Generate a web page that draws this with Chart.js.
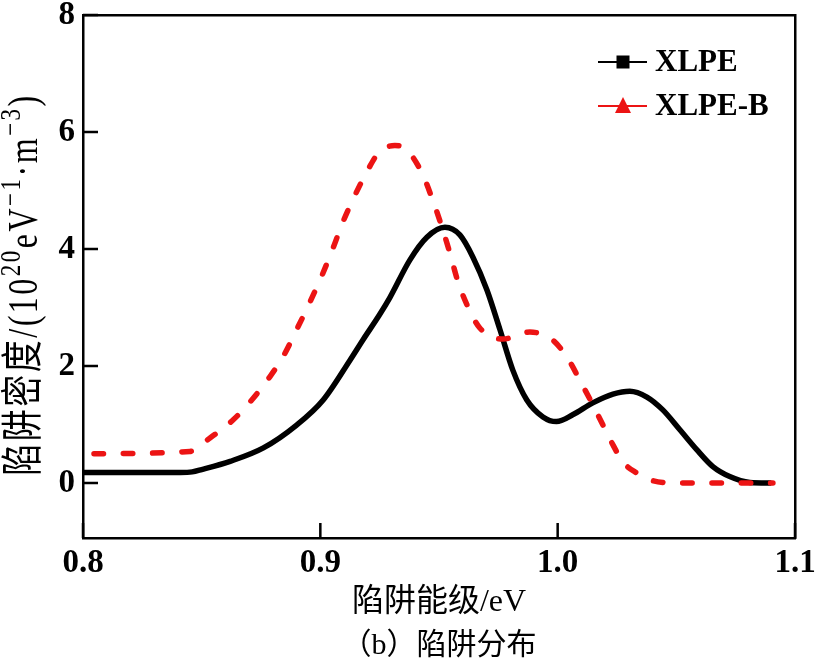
<!DOCTYPE html>
<html>
<head>
<meta charset="utf-8">
<script src="https://cdn.jsdelivr.net/npm/chart.js"></script>
<style>
  html, body { margin: 0; padding: 0; background: #fff; }
  #wrap { width: 815px; height: 664px; }
</style>
</head>
<body>
<div id="wrap"><canvas id="trapChart"></canvas></div>
<script>
// tick values
const xTicks = [0.8, 0.9, 1.0, 1.1];
const yTicks = [0, 2, 4, 6, 8];

// XLPE (black, solid)
const xlpeX = [0.800, 0.841, 0.846, 0.850, 0.862, 0.876, 0.890, 0.9012, 0.9125, 0.918, 0.925, 0.9293, 0.9377, 0.9449, 0.9525, 0.9588, 0.9643, 0.9702, 0.9757, 0.9811, 0.987, 0.9938, 0.9995, 1.0065, 1.0148, 1.0233, 1.0304, 1.0376, 1.0443, 1.0515, 1.0586, 1.0654, 1.0725, 1.081, 1.090];
const xlpeY = [0.18, 0.18, 0.19, 0.23, 0.37, 0.60, 0.99, 1.42, 2.10, 2.45, 2.88, 3.17, 3.81, 4.20, 4.37, 4.24, 3.86, 3.30, 2.62, 1.93, 1.42, 1.13, 1.05, 1.17, 1.37, 1.52, 1.57, 1.47, 1.25, 0.91, 0.57, 0.28, 0.11, 0.01, 0.00];

// XLPE-B (red, dashed)
const xlpeBX = [0.800, 0.845, 0.8535, 0.8633, 0.8711, 0.8788, 0.8843, 0.8906, 0.8956, 0.9007, 0.9053, 0.9095, 0.9146, 0.920, 0.9243, 0.9314, 0.9365, 0.9428, 0.9474, 0.9512, 0.9546, 0.958, 0.9622, 0.9672, 0.9769, 0.9883, 0.998, 1.0047, 1.0098, 1.0144, 1.0186, 1.0228, 1.0275, 1.0334, 1.0401, 1.050, 1.0907];
const xlpeBY = [0.50, 0.54, 0.77, 1.08, 1.42, 1.82, 2.16, 2.67, 3.09, 3.55, 4.01, 4.46, 4.92, 5.35, 5.63, 5.77, 5.69, 5.30, 4.83, 4.38, 3.93, 3.44, 3.01, 2.65, 2.46, 2.58, 2.44, 2.10, 1.72, 1.37, 1.03, 0.69, 0.36, 0.17, 0.04, 0.00, 0.00];

const seriesNames = ['XLPE', 'XLPE-B'];
const xTitle = '陷阱能级/eV';
const caption = '（b）陷阱分布';
// y title pieces: [text, superscript?]
const yTitleParts = [['陷阱密度/(10', false], ['20', true], ['eV', false], ['−1', true], ['·m', false], ['−3', true], [')', false]];

const FONT = "'Liberation Serif', 'Noto Sans CJK SC', serif";

function toPoints(xs, ys) {
    return xs.map((x, i) => ({ x: x, y: ys[i] }));
}

// inward tick marks on the left and bottom axes
function drawInnerTicks(chart) {
    const ctx = chart.ctx;
    const a = chart.chartArea;
    const sx = chart.scales.x, sy = chart.scales.y;
    ctx.save();
    ctx.strokeStyle = '#000000';
    ctx.lineWidth = 2.5;
    ctx.beginPath();
    for (const v of xTicks) {
        const px = sx.getPixelForValue(v);
        ctx.moveTo(px, a.bottom);
        ctx.lineTo(px, a.bottom - 15);
    }
    for (const v of yTicks) {
        const py = sy.getPixelForValue(v);
        ctx.moveTo(a.left, py);
        ctx.lineTo(a.left + 15, py);
    }
    ctx.stroke();
    ctx.restore();
}

// rotated y title with superscripts
function drawYTitle(chart) {
    const ctx = chart.ctx;
    const area = chart.chartArea;
    const mainSize = 32, supSize = 23;
    ctx.save();
    ctx.letterSpacing = '2.5px';
    let total = 0;
    yTitleParts.forEach(p => {
        ctx.font = (p[1] ? supSize : mainSize) + 'px ' + FONT;
        total += ctx.measureText(p[0]).width;
    });
    const cy = (area.top + area.bottom) / 2 + 8;
    ctx.translate(37, cy);
    ctx.rotate(-Math.PI / 2);
    ctx.scale(1, 1.3);
    ctx.fillStyle = '#000';
    ctx.textBaseline = 'alphabetic';
    let x = -total / 2;
    yTitleParts.forEach(p => {
        ctx.font = (p[1] ? supSize : mainSize) + 'px ' + FONT;
        ctx.fillText(p[0], x, p[1] ? -13 : 0);
        x += ctx.measureText(p[0]).width;
    });
    ctx.restore();
}

// legend drawn inside the plot, line + marker like the original
function drawLegend(chart) {
    const ctx = chart.ctx;
    const area = chart.chartArea;
    chart.data.datasets.forEach((ds, i) => {
        const y = area.top + 47 + i * 44;
        const x0 = area.right - 197;
        const cx = x0 + 25;
        ctx.save();
        ctx.strokeStyle = ds.borderColor;
        ctx.lineWidth = 2;
        ctx.beginPath();
        ctx.moveTo(x0, y);
        ctx.lineTo(x0 + 49, y);
        ctx.stroke();
        ctx.fillStyle = ds.borderColor;
        if (ds.pointStyle === 'rect') {
            ctx.fillRect(cx - 6.5, y - 6.5, 13, 13);
        } else {
            ctx.beginPath();
            ctx.moveTo(cx, y - 9);
            ctx.lineTo(cx + 8, y + 7);
            ctx.lineTo(cx - 8, y + 7);
            ctx.closePath();
            ctx.fill();
        }
        ctx.fillStyle = '#000';
        ctx.font = 'bold 31px ' + FONT;
        ctx.textBaseline = 'middle';
        ctx.fillText(ds.label, x0 + 57, y + 1);
        ctx.restore();
    });
}

const decor = {
    id: 'decor',
    afterDraw(chart) {
        drawLegend(chart);
        drawInnerTicks(chart);
        drawYTitle(chart);
    }
};

document.addEventListener('DOMContentLoaded', function() {
    const ctx = document.getElementById('trapChart');

    // top and right axes only close the frame
    const boxAxis = (pos) => ({
        type: 'linear',
        position: pos,
        display: true,
        ticks: { display: false },
        grid: { display: true, drawOnChartArea: false, drawTicks: false, color: 'rgba(0,0,0,0)' },
        border: { display: true, color: '#000', width: 2.5 },
        afterFit: function(s) {
            if (pos === 'top') s.height = 0; else s.width = 0;
            s.paddingLeft = 0; s.paddingRight = 0; s.paddingTop = 0; s.paddingBottom = 0;
        }
    });

    new Chart(ctx, {
        type: 'line',
        data: {
            datasets: [{
                label: seriesNames[0],
                data: toPoints(xlpeX, xlpeY),
                borderColor: '#000000',
                borderWidth: 5.5,
                pointRadius: 0,
                pointStyle: 'rect',
                cubicInterpolationMode: 'monotone',
                order: 2
            }, {
                label: seriesNames[1],
                data: toPoints(xlpeBX, xlpeBY),
                borderColor: '#ec1414',
                borderWidth: 5.5,
                borderDash: [9.5, 19.8],
                borderDashOffset: 18.3,
                borderCapStyle: 'round',
                pointRadius: 0,
                pointStyle: 'triangle',
                cubicInterpolationMode: 'monotone',
                order: 1
            }]
        },
        options: {
            responsive: true,
            maintainAspectRatio: false,
            animation: false,
            layout: { padding: { top: 15, right: 20, bottom: 0, left: 0 } },
            plugins: {
                legend: { display: false },
                tooltip: { enabled: false },
                title: {
                    display: true,
                    text: caption,
                    position: 'bottom',
                    fullSize: false,
                    color: '#000',
                    font: { family: FONT, size: 30, weight: 'normal', lineHeight: 1.2 },
                    padding: { top: 0, bottom: 0 }
                }
            },
            scales: {
                x: {
                    type: 'linear',
                    position: 'bottom',
                    min: 0.8,
                    max: 1.1,
                    afterBuildTicks: function(s) { s.ticks = xTicks.map(v => ({ value: v })); },
                    afterFit: function(s) { s.height = 90; s.paddingLeft = 0; s.paddingRight = 0; },
                    ticks: {
                        color: '#000',
                        padding: 6,
                        maxRotation: 0,
                        font: { family: FONT, size: 33, weight: 'bold' },
                        callback: v => v.toFixed(1)
                    },
                    grid: { display: true, drawOnChartArea: false, drawTicks: false, color: '#000', lineWidth: 2 },
                    border: { display: true, color: '#000', width: 2.5 },
                    title: {
                        display: true,
                        text: xTitle,
                        color: '#000',
                        font: { family: FONT, size: 32 },
                        padding: { top: 0, bottom: 6 }
                    }
                },
                y: {
                    type: 'linear',
                    position: 'left',
                    min: -0.94,
                    max: 8,
                    afterBuildTicks: function(s) { s.ticks = yTicks.map(v => ({ value: v })); },
                    afterFit: function(s) { s.width = 83; s.paddingTop = 0; s.paddingBottom = 0; },
                    ticks: {
                        color: '#000',
                        padding: 8,
                        font: { family: FONT, size: 33, weight: 'bold' }
                    },
                    grid: { display: true, drawOnChartArea: false, drawTicks: false, color: '#000', lineWidth: 2 },
                    border: { display: true, color: '#000', width: 2.5 }
                },
                xTop: boxAxis('top'),
                yRight: boxAxis('right')
            }
        },
        plugins: [decor]
    });
});
</script>
</body>
</html>
